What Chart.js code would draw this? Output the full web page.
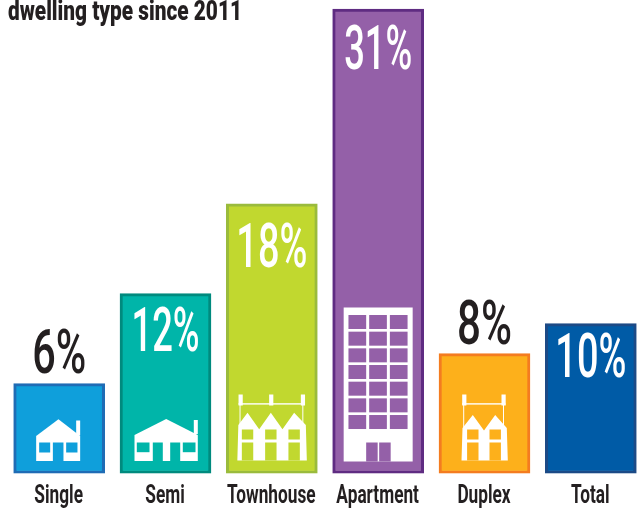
<!DOCTYPE html>
<html><head><meta charset="utf-8">
<style>html,body{margin:0;padding:0;background:#fff;overflow:hidden;width:641px;height:508px}
#w{position:absolute;left:0;top:0;width:650px;height:508px}</style>
<script src="https://cdn.jsdelivr.net/npm/chart.js@4"></script></head>
<body><div id="w"><canvas id="c"></canvas></div>
<script>
const categories=["Single","Semi","Townhouse","Apartment","Duplex","Total"];
const growth=[6,12,18,31,8,10];
const fills=["#0f9fdb","#00b5a9","#c1d82f","#9460a8","#fdb01b","#005ba6"];
const edges=["#1f6cb5","#008a7e","#9abb3c","#5f2c82","#f47c20","#1c4a86"];
const valueGap=[-11,57,63,60,-10,53];
const valueWidth=[54,68,71,68,55,71];
const titleText="dwelling type since 2011";
const FF='Roboto,"Liberation Sans",sans-serif';

function poly(c,pts){c.beginPath();pts.forEach((p,i)=>i?c.lineTo(p[0],p[1]):c.moveTo(p[0],p[1]));c.closePath();c.fill();}
function row(c,col,xs,peak,valley,eave,left,right,tops){
  c.fillStyle="#fff";
  const B=-13;
  const pts=[[left,B],[left+1,eave]];
  xs.forEach((x,i)=>{pts.push([x,peak]);if(i<xs.length-1)pts.push([(x+xs[i+1])/2,valley]);});
  pts.push([right-1,eave],[right,B]);
  poly(c,pts);
  c.fillStyle=col;
  xs.forEach(x=>{c.fillRect(x-5.7,-44,11.4,10);c.fillRect(x-5.7,-31,11.4,18);});
  c.fillStyle="#fff";
  tops.forEach(x=>c.fillRect(x,-79,4.2,11));
  c.fillRect(tops[0],-70.3,tops[tops.length-1]-tops[0]+4,1.4);
  c.fillRect(tops[0]+1,-70,1,24);c.fillRect(tops[tops.length-1]+1.5,-70,1,24);
}
const icons={
 Single(c,col){
  c.fillStyle="#fff";poly(c,[[-23,-37.5],[-0.7,-54.2],[21,-37.5],[21,-12.5],[-23,-12.5]]);
  c.fillRect(17,-53,4,15);
  c.fillStyle=col;c.fillRect(-20,-31,11,10);c.fillRect(7,-31,11.3,10);
  c.fillRect(-6.3,-31,10.6,18.5);
 },
 Semi(c,col){
  c.fillStyle="#fff";poly(c,[[-31,-38.5],[0.7,-54.5],[32.3,-38.5],[32.3,-12.5],[-31,-12.5]]);
  c.fillRect(28.3,-53.5,4,14);
  c.fillStyle=col;c.fillRect(-28.7,-31,12.7,9.7);c.fillRect(17.3,-31,12.7,9.7);
  c.fillRect(-12.7,-31,10,18.5);c.fillRect(4.7,-31,10,18.5);
 },
 Townhouse(c,col){row(c,col,[-24.3,-1,22.3],-60.8,-44.2,-48.5,-34.5,35,[-33.3,-2.7,29]);},
 Apartment(c,col){
  c.fillStyle="#fff";c.fillRect(-34.5,-166,69,154);
  c.fillStyle=col;
  for(let r=0;r<7;r++)for(let k=0;k<3;k++)c.fillRect(-29.7+k*20.7,-158.5+r*16.67,17.7,14);
  c.fillRect(-12,-31,11.5,19);c.fillRect(1,-31,11.5,19);
 },
 Duplex(c,col){row(c,col,[-11.7,10.7],-58.5,-43,-45.5,-23,23.3,[-22.3,17]);},
 Total(){}
};
function fit(c,text,x,y,w){
  const s=w/c.measureText(text).width;
  c.save();c.translate(x,y);c.scale(s,1);c.fillText(text,0,0);c.restore();
}
const art={id:"art",
 afterDatasetsDraw(ch){
  const c=ch.ctx,m=ch.getDatasetMeta(0),y=ch.scales.y;
  c.textBaseline="alphabetic";
  m.data.forEach((b,i)=>{
   const name=categories[i];
   c.save();c.translate(b.x,y.getPixelForValue(0));icons[name](c,fills[i]);c.restore();
   const top=y.getPixelForValue(growth[i]);
   c.textAlign="center";
   c.font='500 62px '+FF;
   c.fillStyle=valueGap[i]>0?"#fff":"#231f20";
   fit(c,growth[i]+"%",b.x,top+valueGap[i],valueWidth[i]);
   c.save();c.translate(b.x-0.5,502.5);c.scale(0.69,1);
   c.font='bold 25px '+FF;c.fillStyle="#231f20";
   c.fillText(name,0,0);c.restore();
  });
  c.textAlign="left";c.font='900 28px '+FF;c.fillStyle="#231f20";
  fit(c,titleText,8,20,234);
 }};
new Chart(document.getElementById("c"),{type:"bar",
 data:{labels:categories,datasets:[{data:growth,backgroundColor:fills,borderColor:edges,borderWidth:3,barThickness:91,borderSkipped:false}]},
 options:{responsive:true,maintainAspectRatio:false,animation:false,
  layout:{padding:{left:6,right:6,top:0,bottom:0}},
  plugins:{legend:{display:false},tooltip:{enabled:false}},
  scales:{
   y:{display:false,min:0,max:31.6},
   x:{grid:{display:false},border:{display:false},afterFit(s){s.height=34.5},
      ticks:{display:false}}
  }},plugins:[art]});
</script></body></html>
